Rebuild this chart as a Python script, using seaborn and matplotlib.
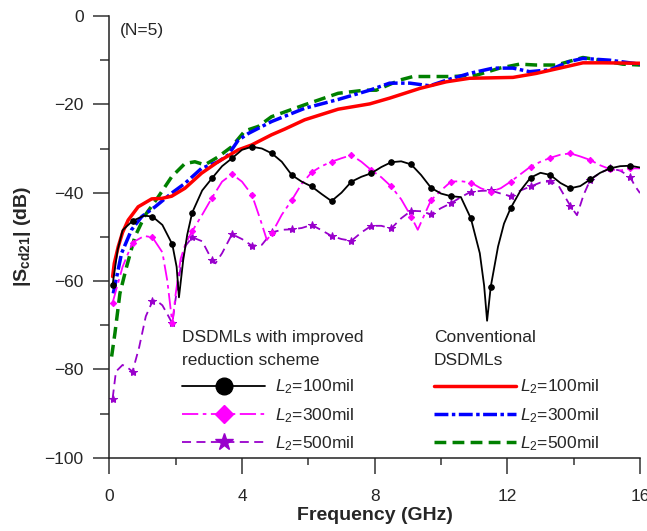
import numpy as np
import matplotlib
matplotlib.use("Agg")
import matplotlib.pyplot as plt
from matplotlib.lines import Line2D
from matplotlib.ticker import MultipleLocator
import seaborn as sns

# ---------------- data ----------------
f_blk = [0.1, 0.25, 0.4, 0.7, 1.05, 1.3, 1.6, 1.9, 2.03, 2.1, 2.23, 2.35, 2.5, 2.8, 3.1, 3.4, 3.7,
         4.0, 4.3, 4.6, 4.9, 5.2, 5.5, 5.8, 6.1, 6.4, 6.7, 7.0, 7.3, 7.6, 7.9, 8.2, 8.5, 8.8,
         9.1, 9.4, 9.7, 10.0, 10.3, 10.6, 10.9, 11.17, 11.3, 11.39, 11.5, 11.72, 11.9, 12.1, 12.4,
         12.7, 13.0, 13.3, 13.6, 13.9, 14.2, 14.5, 14.8, 15.1, 15.4, 15.7, 16.0]
y_blk = [-60.8, -53.0, -48.5, -46.4, -45.2, -45.4, -47.3, -51.7, -56.8, -63.7, -55.2, -49.5, -44.5,
         -39.5, -36.7, -34.0, -32.2, -30.3, -29.6, -30.0, -31.1, -33.0, -36.0, -37.5, -38.6, -40.3,
         -41.9, -40.0, -37.5, -36.4, -35.6, -34.2, -33.1, -32.9, -33.6, -36.0, -38.9, -40.2, -40.8,
         -41.0, -45.8, -53.7, -61.0, -69.0, -61.3, -52.2, -47.0, -43.5, -39.5, -36.6, -35.5, -36.0,
         -37.8, -39.0, -38.5, -37.0, -35.5, -34.5, -34.0, -33.9, -34.3]

f_mag = [0.1, 0.4, 0.7, 1.05, 1.3, 1.6, 1.75, 1.9, 2.0, 2.15, 2.3, 2.5, 2.8, 3.1, 3.4, 3.7, 4.0,
         4.3, 4.55, 4.75, 4.9, 5.2, 5.5, 5.8, 6.1, 6.4, 6.7, 7.0, 7.3, 7.6, 7.9, 8.2, 8.5, 8.8,
         9.1, 9.3, 9.5, 9.7, 10.0, 10.3, 10.6, 10.9, 11.2, 11.5, 11.8, 12.1, 12.4, 12.7, 13.0,
         13.3, 13.6, 13.9, 14.2, 14.5, 14.8, 15.1, 15.4, 15.7, 16.0]
y_mag = [-64.9, -56.8, -51.3, -49.8, -50.1, -53.5, -60.0, -69.6, -63.0, -55.0, -51.5, -48.7, -45.0,
         -41.1, -37.5, -35.8, -37.5, -40.5, -46.0, -50.7, -49.2, -45.0, -41.7, -38.0, -35.4, -34.0,
         -33.0, -32.2, -31.5, -33.0, -34.9, -36.5, -38.6, -41.5, -45.4, -48.4, -45.0, -41.7, -39.5,
         -37.5, -37.4, -37.7, -39.0, -39.8, -39.0, -37.5, -35.8, -34.1, -33.0, -32.1, -31.4, -31.1,
         -31.8, -32.6, -33.8, -34.7, -35.0, -34.5, -34.5]

f_pur = [0.1, 0.2, 0.4, 0.55, 0.7, 0.9, 1.1, 1.3, 1.4, 1.6, 1.75, 1.9, 2.0, 2.15, 2.3, 2.5, 2.8,
         3.1, 3.2, 3.4, 3.7, 4.0, 4.3, 4.6, 4.9, 5.2, 5.5, 5.8, 6.1, 6.4, 6.7, 7.0, 7.3, 7.6, 7.9,
         8.2, 8.5, 8.8, 9.1, 9.4, 9.7, 10.0, 10.3, 10.6, 10.9, 11.2, 11.5, 11.8, 12.1, 12.4, 12.7,
         13.0, 13.3, 13.55, 13.9, 14.1, 14.3, 14.5, 14.8, 15.1, 15.4, 15.7, 15.85, 16.0]
y_pur = [-86.6, -80.5, -79.0, -79.6, -80.5, -75.0, -68.0, -64.6, -64.3, -65.5, -67.5, -69.6, -64.0,
         -57.0, -52.0, -50.1, -51.0, -55.3, -56.0, -53.7, -49.4, -50.5, -52.0, -51.8, -49.0, -48.4,
         -48.3, -48.0, -47.3, -48.5, -49.8, -50.5, -50.9, -49.0, -47.5, -47.5, -48.1, -45.8, -44.1,
         -44.2, -44.9, -43.5, -42.4, -41.0, -39.8, -39.6, -39.5, -40.2, -40.8, -39.5, -38.6, -37.7,
         -37.4, -38.5, -43.0, -45.1, -40.5, -37.1, -35.5, -34.5, -35.0, -36.4, -38.5, -40.1]

f_red = [0.1, 0.15, 0.27, 0.4, 0.57, 0.87, 1.28, 1.58, 1.88, 2.28, 2.78, 3.28, 3.89, 4.29, 4.89,
         5.29, 5.89, 6.9, 7.85, 8.45, 9.36, 10.16, 10.86, 12.17, 12.87, 13.58, 14.28, 14.88, 16.0]
y_red = [-59.0, -56.0, -52.2, -49.0, -46.2, -43.2, -41.4, -41.3, -40.8, -39.0, -35.6, -33.0, -30.3,
         -29.2, -26.9, -25.6, -23.5, -21.1, -19.9, -18.6, -16.4, -14.9, -14.1, -13.9, -13.0, -11.8,
         -10.6, -10.6, -10.7]

f_blu = [0.12, 0.37, 0.67, 0.98, 1.38, 1.88, 2.28, 2.78, 3.28, 3.58, 3.89, 4.19, 4.89, 5.89, 6.9,
         7.85, 8.45, 9.06, 9.66, 10.26, 10.86, 11.57, 12.17, 12.67, 13.27, 13.87, 14.28, 15.08, 16.0]
y_blu = [-62.8, -53.7, -48.4, -45.4, -43.2, -40.1, -37.9, -34.5, -33.0, -31.5, -28.1, -26.6, -23.9,
         -20.9, -18.9, -16.8, -15.2, -15.2, -15.8, -14.3, -13.0, -11.8, -11.8, -12.6, -12.2, -10.3,
         -9.6, -10.0, -10.9]

f_grn = [0.07, 0.17, 0.32, 0.52, 0.77, 1.08, 1.48, 1.88, 2.28, 2.58, 2.88, 3.28, 3.69, 4.09, 4.49,
         4.89, 5.89, 6.9, 7.7, 8.05, 8.76, 9.16, 10.36, 11.07, 11.77, 12.37, 12.87, 13.48, 14.28,
         14.88, 15.48, 16.0]
y_grn = [-77.1, -71.8, -62.8, -56.8, -50.0, -45.1, -40.9, -36.4, -33.4, -33.0, -33.7, -31.9, -29.6,
         -26.0, -25.0, -22.8, -20.1, -17.5, -16.8, -16.8, -14.5, -13.7, -13.7, -13.4, -11.8, -10.9,
         -11.1, -11.1, -9.4, -10.1, -10.9, -11.1]

marker_freqs = [0.1 + 0.6 * k for k in range(27)]

group1_title = "DSDMLs with improved\nreduction scheme"
group2_title = "Conventional\nDSDMLs"
labels = [r"$\mathit{L_2}$=100mil", r"$\mathit{L_2}$=300mil", r"$\mathit{L_2}$=500mil"]
x_ticks = [0, 4, 8, 12, 16]
y_ticks = [-100, -80, -60, -40, -20, 0]

# ---------------- style ----------------
sns.set_style("ticks")
plt.rcParams["font.family"] = ["Liberation Sans", "DejaVu Sans"]
plt.rcParams["mathtext.fontset"] = "custom"
plt.rcParams["mathtext.rm"] = "Liberation Sans"
plt.rcParams["mathtext.it"] = "Liberation Sans:italic"
plt.rcParams["mathtext.bf"] = "Liberation Sans:bold"

BLK, MAG, PUR = "#000000", "#ff00ff", "#9900cc"
RED, BLU, GRN = "#ff0000", "#0000ff", "#008000"

fig = plt.figure(figsize=(6.47, 5.31), dpi=100)
ax = fig.add_axes([109.3 / 647, 1 - 457.7 / 531, (640 - 109.3) / 647, (457.7 - 16) / 531])


def mk_idx(freqs):
    fa = np.asarray(freqs)
    return [i for i, v in enumerate(fa) if np.any(np.isclose(v, marker_freqs, atol=0.02))]


def draw(f, y, color, lw, dashes=None, marker=None, ms=0):
    n_before = len(ax.lines)
    sns.lineplot(x=f, y=y, ax=ax, color=color, linewidth=lw, sort=False, estimator=None)
    line = ax.lines[n_before]
    if dashes is not None:
        line.set_dashes(dashes)
    if marker is not None:
        line.set_marker(marker)
        line.set_markersize(ms)
        line.set_markevery(mk_idx(f))
        line.set_markerfacecolor(color)
        line.set_markeredgecolor(color)
    return line


draw(f_grn, y_grn, GRN, 2.5, dashes=(3.4, 1.8))
draw(f_blu, y_blu, BLU, 2.5, dashes=(4.0, 1.0, 1.0, 1.0))
draw(f_red, y_red, RED, 2.5)
draw(f_pur, y_pur, PUR, 1.3, dashes=(5.0, 3.0), marker="*", ms=6)
draw(f_mag, y_mag, MAG, 1.3, dashes=(9.0, 2.5, 2.0, 2.5), marker="D", ms=3.2)
draw(f_blk, y_blk, BLK, 1.3, marker="o", ms=4)

ax.set_xlim(0, 16)
ax.set_ylim(-100, 0)
ax.set_xticks(x_ticks)
ax.set_yticks(y_ticks)
ax.xaxis.set_minor_locator(MultipleLocator(2))
ax.yaxis.set_minor_locator(MultipleLocator(10))
ax.tick_params(axis="both", which="major", direction="out", length=11.5, width=1.1,
               labelsize=12.5, color="#333333")
ax.tick_params(axis="x", which="major", pad=11)
ax.tick_params(axis="y", which="major", pad=7)
ax.tick_params(axis="x", which="minor", direction="out", length=5, width=1.1, color="#333333")
ax.tick_params(axis="y", which="minor", direction="out", length=6.5, width=1.1, color="#333333")
sns.despine(ax=ax)
for s in ("left", "bottom"):
    ax.spines[s].set_linewidth(1.1)
    ax.spines[s].set_color("#222222")

ax.set_xlabel("Frequency (GHz)", fontsize=14, fontweight="bold", labelpad=2)
ax.set_ylabel(r"|S$_{\mathbf{cd21}}$| (dB)", fontsize=14, fontweight="bold", labelpad=8)
ax.text(0.02, 0.985, "(N=5)", transform=ax.transAxes, fontsize=12.5, va="top", ha="left")

# ---------------- legends ----------------
h1 = [Line2D([], [], color=BLK, lw=1.3, marker="o", ms=12),
      Line2D([], [], color=MAG, lw=1.3, dashes=(9.0, 2.5, 2.0, 2.5), marker="D", ms=9),
      Line2D([], [], color=PUR, lw=1.3, dashes=(5.0, 3.0), marker="*", ms=13)]
h2 = [Line2D([], [], color=RED, lw=2.5),
      Line2D([], [], color=BLU, lw=2.5, dashes=(4.0, 1.0, 1.0, 1.0)),
      Line2D([], [], color=GRN, lw=2.5, dashes=(3.4, 1.8))]

leg_kw = dict(loc="upper left", bbox_transform=fig.transFigure, frameon=False, fontsize=12.5,
              title_fontsize=12.5, alignment="left", labelspacing=0.55, borderpad=0,
              borderaxespad=0)
leg1 = ax.legend(h1, labels, title=group1_title, bbox_to_anchor=(182 / 647, 1 - 330 / 531),
                 handlelength=4.8, handletextpad=0.55, **leg_kw)
leg1.get_title().set_linespacing(1.68)
ax.add_artist(leg1)
leg2 = ax.legend(h2, labels, title=group2_title, bbox_to_anchor=(434 / 647, 1 - 330 / 531),
                 handlelength=4.75, handletextpad=0.2, **leg_kw)
leg2.get_title().set_linespacing(1.68)

fig.savefig("out.png", dpi=100)
